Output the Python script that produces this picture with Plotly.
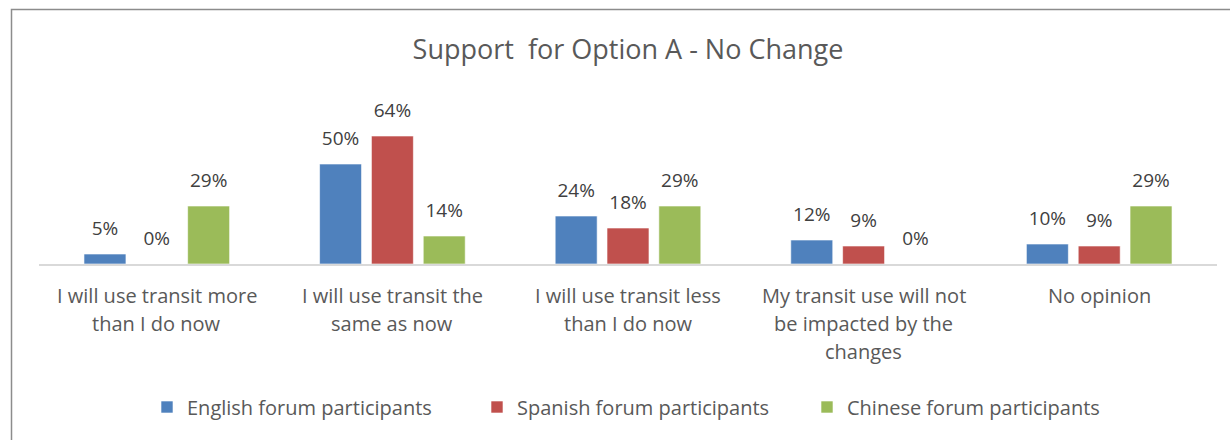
import plotly.graph_objects as go

# Survey categories (each entry is the wrapped label, one string per line)
category_lines = [
    ["I will use transit more", "than I do now"],
    ["I will use transit the", "same as now"],
    ["I will use transit less", "than I do now"],
    ["My transit use will not", "be impacted by the", "changes"],
    ["No opinion"],
]
categories = [" ".join(lines) for lines in category_lines]

# Share of respondents (%) per forum group
english = [5, 50, 24, 12, 10]
spanish = [0, 64, 18, 9, 9]
chinese = [29, 14, 29, 0, 29]

series_names = [
    "English forum participants",
    "Spanish forum participants",
    "Chinese forum participants",
]
series_keys = ["en", "es", "zh"]
series_values = [english, spanish, chinese]
series_colors = ["#4f81bd", "#c0504d", "#9bbb59"]

W, H = 1230, 440
ML, MR, MT, MB = 39, 13, 124, 176
FONT = "Open Sans"
TXT = "#595959"
GAP = 0.34

fig = go.Figure()
for name, key, vals, col in zip(series_names, series_keys, series_values, series_colors):
    fig.add_trace(go.Bar(
        x=categories, y=vals, name=name, offsetgroup=key,
        marker=dict(color=col, line=dict(color="rgba(255,255,255,0.6)", width=1)),
        hoverinfo="skip",
    ))

# Value labels: invisible grouped markers sitting on each bar top, text above
for name, key, vals in zip(series_names, series_keys, series_values):
    fig.add_trace(go.Scatter(
        x=categories, y=vals, offsetgroup=key, mode="text+markers",
        marker=dict(size=22, opacity=0),
        text=[f"{v}%" for v in vals], textposition="top center",
        textfont=dict(family=FONT, size=19, color="#404040"),
        showlegend=False, cliponaxis=False, name=name,
    ))

# Wrapped category labels under the axis
annotations = []
for cat, lines in zip(categories, category_lines):
    for i, line in enumerate(lines):
        annotations.append(dict(
            x=cat, y=0, xref="x", yref="y", text=line, showarrow=False,
            yanchor="middle", yshift=-(31 + 28 * i),
            font=dict(family=FONT, size=20, color=TXT),
        ))

pw = W - ML - MR
ph = H - MT - MB
# Chart frame (left and top edges visible, others run off the page)
fig.add_shape(
    type="rect", xref="paper", yref="paper",
    x0=(11.5 - ML) / pw, x1=(W + 10 - ML) / pw,
    y0=-(H + 10 - MT - ph) / ph, y1=(H - MB - 9.5) / ph,
    line=dict(color="#8c8c8c", width=1.5), fillcolor="rgba(0,0,0,0)",
    layer="below",
)

fig.update_layout(
    width=W, height=H,
    margin=dict(l=ML, r=MR, t=MT, b=MB),
    paper_bgcolor="white", plot_bgcolor="white",
    barmode="group", bargap=GAP, bargroupgap=0.19,
    scattermode="group", scattergap=GAP,
    title=dict(
        text="Support  for Option A - No Change",
        x=0.5, xref="paper", xanchor="center",
        y=1 - 50 / H, yref="container", yanchor="middle",
        font=dict(family=FONT, size=27, color=TXT),
    ),
    xaxis=dict(
        showticklabels=False, ticks="", showgrid=False,
        showline=True, linecolor="#d9d9d9", linewidth=1.5,
    ),
    yaxis=dict(range=[0, 70], visible=False, showgrid=False, zeroline=False),
    showlegend=True,
    legend=dict(
        orientation="h", x=0.5 + 14 / pw, xanchor="center",
        y=-(407 - (H - MB)) / ph, yanchor="middle",
        font=dict(family=FONT, size=20, color=TXT),
        itemwidth=30, entrywidth=285, traceorder="normal",
    ),
    annotations=annotations,
    hovermode=False,
)

fig.write_html("out.html")
